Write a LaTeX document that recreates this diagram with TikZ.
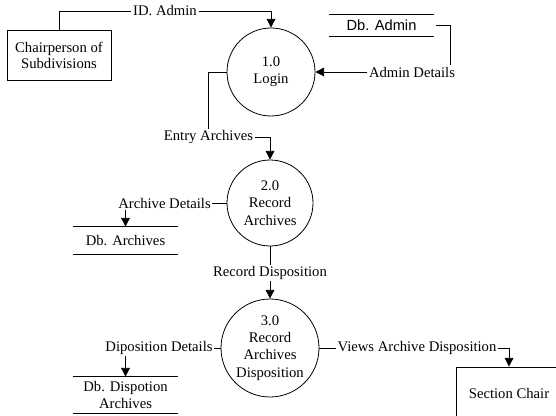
\documentclass[tikz,border=0pt]{standalone}
\usepackage{fontspec}
\setmainfont{Liberation Serif}
\newfontfamily\dbfont{Liberation Sans}
\usetikzlibrary{arrows.meta}

\tikzset{
    proc/.style={draw, circle, align=center, inner sep=0pt},
    ent/.style={draw, rectangle, align=center, minimum width=78pt, minimum height=38pt},
    store/.style={align=center, minimum width=78.75pt, inner sep=0pt},
    lbl/.style={inner sep=1pt},
    flow/.style={-{Triangle[width=6.5pt,length=6.5pt]}}
}

\begin{document}
\begin{tikzpicture}[x=0.75pt, y=-0.75pt, line width=0.6pt, font=\fontsize{11}{13}\selectfont]
        \clip (0, 0) rectangle (556, 416);
        % processes
        \node[proc, minimum size=66pt] (p1) at (271, 72) {1.0\\Login};
        \node[proc, minimum size=64.5pt] (p2) at (270, 203) {2.0\\Record\\Archives};
        \node[proc, minimum size=73.5pt] (p3) at (270, 348) {3.0\\Record\\Archives\\Disposition};
        % entities
        \node[ent, font=\fontsize{11}{11.5}\selectfont] (chair) at (59, 55.5) {Chairperson of\\Subdivisions};
        \node[ent, minimum width=79.5pt, minimum height=39pt] (section) at (509, 393) {Section Chair};
        % data stores
        \node[store, minimum height=15.75pt, font=\dbfont\fontsize{11}{13}\selectfont] (dbadmin) at (381.5, 25.5) {Db. Admin};
        \node[store, minimum height=20.25pt] (dbarch) at (125.5, 240.5) {Db. Archives};
        \node[store, minimum height=27pt, font=\fontsize{11}{12.4}\selectfont] (dbdisp) at (125.5, 395) {Db. Dispotion\\Archives};
        \foreach \s in {dbadmin, dbarch, dbdisp} {
            \draw (\s.north west) -- (\s.north east);
            \draw (\s.south west) -- (\s.south east);
        }
        % flow labels
        \node[lbl] (idlbl) at (165, 11) {ID. Admin};
        \node[lbl] (adminlbl) at (412, 72) {Admin Details};
        \node[lbl] (entrylbl) at (208.5, 137) {Entry Archives};
        \node[lbl] (archlbl) at (164.5, 203) {Archive Details};
        \node[lbl] (reclbl) at (270, 273) {Record Disposition};
        \node[lbl] (displbl) at (159, 348) {Diposition Details};
        \node[lbl] (viewslbl) at (417, 348) {Views Archive Disposition};
        % flows
        \draw (chair.north) |- (idlbl.west);
        \draw[flow] (idlbl.east) -| (p1.north);
        \draw ([xshift=1pt]dbadmin.east) -| ([xshift=-5pt]adminlbl.north east);
        \draw[flow] (adminlbl.west) -- (p1.east);
        \draw (p1.west) -| (entrylbl.north);
        \draw[flow] (entrylbl.east) -| (p2.north);
        \draw (archlbl.east) -- (p2.west);
        \draw[flow] (archlbl.south -| dbarch.north) -- (dbarch.north);
        \draw (p2.south) -- (reclbl.north);
        \draw[flow] (reclbl.south) -- (p3.north);
        \draw (displbl.east) -- (p3.west);
        \draw[flow] (displbl.south -| dbdisp.north) -- (dbdisp.north);
        \draw (p3.east) -- (viewslbl.west);
        \draw[flow] (viewslbl.east) -| (section.north);
    \end{tikzpicture}
\end{document}
